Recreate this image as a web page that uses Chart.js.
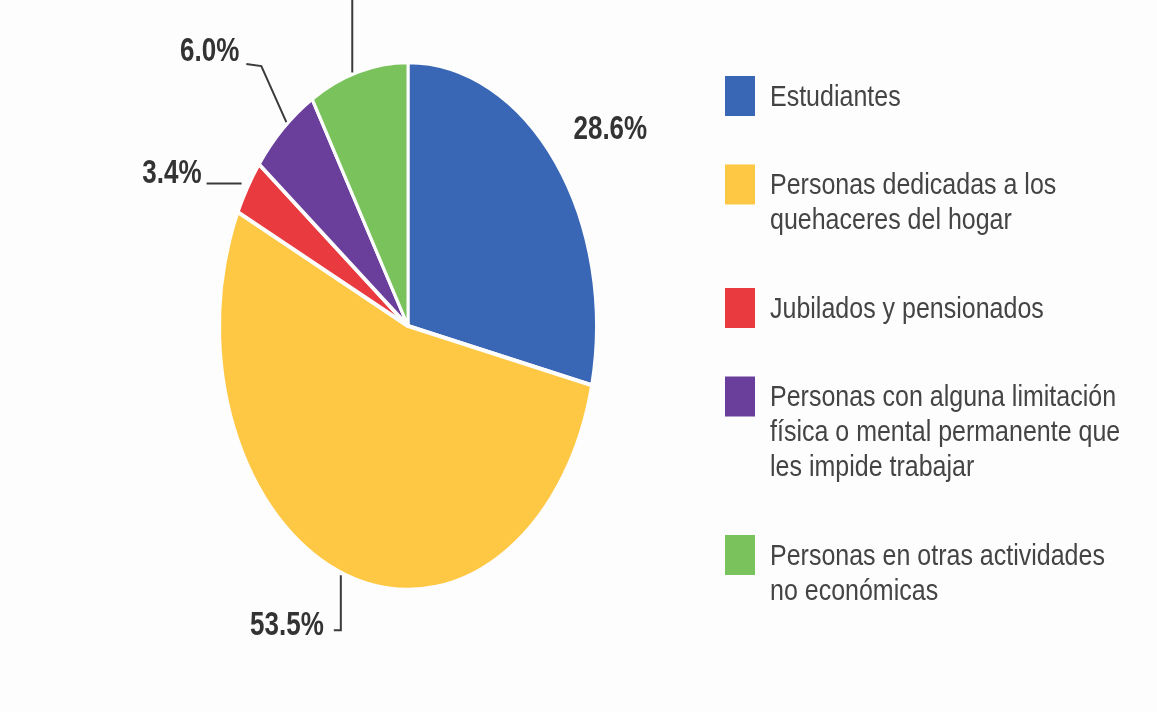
<!DOCTYPE html>
<html>
<head>
<meta charset="utf-8">
<script src="https://cdn.jsdelivr.net/npm/chart.js@4/dist/chart.umd.min.js"></script>
<style>
  html, body { margin: 0; padding: 0; background: #fdfdfd; }
  canvas { display: block; }
</style>
</head>
<body>
<canvas id="pieChart" width="1157" height="712"></canvas>
<script>
// data
const categories = [
  ['Estudiantes'],
  ['Personas dedicadas a los', 'quehaceres del hogar'],
  ['Jubilados y pensionados'],
  ['Personas con alguna limitación', 'física o mental permanente que', 'les impide trabajar'],
  ['Personas en otras actividades', 'no económicas']
];
const shares = [28.6, 53.5, 3.4, 6.0, 8.5];
const colors = ['#3a67b5', '#fec844', '#e83a3f', '#6a3f9c', '#7ac25c'];

// the source image is stretched vertically, so the pie is drawn as an ellipse
const stretchY = 1.4;
const textStretch = 1.3;

// leader lines + label spots, relative to the outer edge at each slice's mid angle
const callouts = [
  { line: [], text: [18, -32], align: 'left' },
  { line: [[-5, 0], [-5, 55], [-12, 55]], text: [-22, 51], align: 'right' },
  { line: [[-6, -4], [-41, -4]], text: [-46, -14], align: 'right' },
  { line: [[3, -6], [-22, -62], [-37, -64]], text: [-44, -76], align: 'right' },
  { line: [[-6, 1], [-6, -80]], text: null, align: 'center' }
];

function drawText(ctx, str, x, y, sy) {
  ctx.save();
  ctx.translate(x, y);
  ctx.scale(1, sy);
  ctx.fillText(str, 0, 0);
  ctx.restore();
}

const ellipsePlugin = {
  id: 'ellipse',
  beforeDatasetsDraw(chart) {
    const arc = chart.getDatasetMeta(0).data[0];
    const ctx = chart.ctx;
    ctx.save();
    ctx.translate(arc.x, arc.y);
    ctx.scale(1, stretchY);
    ctx.translate(-arc.x, -arc.y);
  },
  afterDatasetsDraw(chart) {
    chart.ctx.restore();
  }
};

const calloutPlugin = {
  id: 'callouts',
  afterDraw(chart) {
    const ctx = chart.ctx;
    const arcs = chart.getDatasetMeta(0).data;

    // value labels
    arcs.forEach((arc, i) => {
      const p = arc.getProps(['x', 'y', 'startAngle', 'endAngle', 'outerRadius'], true);
      const mid = (p.startAngle + p.endAngle) / 2;
      const ax = p.x + Math.cos(mid) * p.outerRadius;
      const ay = p.y + Math.sin(mid) * p.outerRadius * stretchY;
      const c = callouts[i];

      if (c.line.length) {
        ctx.save();
        ctx.strokeStyle = '#3a3a3a';
        ctx.lineWidth = 2;
        ctx.beginPath();
        c.line.forEach((pt, j) => {
          if (j === 0) ctx.moveTo(ax + pt[0], ay + pt[1]);
          else ctx.lineTo(ax + pt[0], ay + pt[1]);
        });
        ctx.stroke();
        ctx.restore();
      }
      if (c.text) {
        ctx.save();
        ctx.fillStyle = '#333333';
        ctx.font = 'bold 26px "Liberation Sans", Arial, sans-serif';
        ctx.textAlign = c.align;
        ctx.textBaseline = 'middle';
        drawText(ctx, shares[i].toFixed(1) + '%', ax + c.text[0], ay + c.text[1], textStretch);
        ctx.restore();
      }
    });

    // legend on the right
    const boxX = 725, boxW = 30, boxH = 40;
    const textX = 770, lineH = 35, gap = 53.5;
    let y = 98;
    ctx.save();
    ctx.font = '25px "Liberation Sans", Arial, sans-serif';
    ctx.textAlign = 'left';
    ctx.textBaseline = 'middle';
    categories.forEach((lines, i) => {
      ctx.fillStyle = colors[i];
      ctx.fillRect(boxX, y - 22, boxW, boxH);
      ctx.fillStyle = '#444444';
      lines.forEach((ln, j) => drawText(ctx, ln, textX, y + j * lineH, 1.15));
      y += lines.length * lineH + gap;
    });
    ctx.restore();
  }
};

new Chart(document.getElementById('pieChart'), {
  type: 'pie',
  data: {
    labels: categories.map(l => l.join(' ')),
    datasets: [{
      data: shares,
      backgroundColor: colors,
      borderColor: '#fdfdfd',
      borderWidth: 3,
      clip: false
    }]
  },
  options: {
    responsive: false,
    animation: false,
    layout: { padding: { left: 218, right: 559, top: 136, bottom: 196 } },
    plugins: {
      legend: { display: false },
      tooltip: { enabled: false }
    }
  },
  plugins: [ellipsePlugin, calloutPlugin]
});
</script>
</body>
</html>
